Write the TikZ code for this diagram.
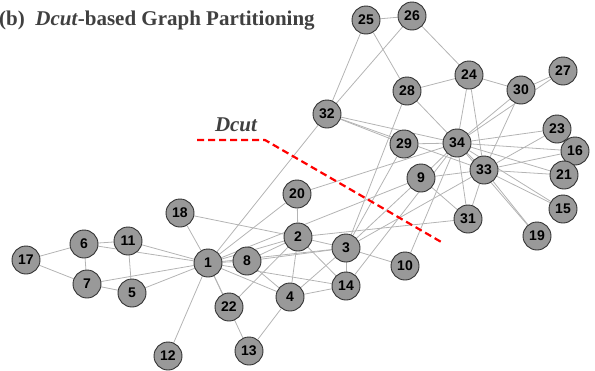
\documentclass[tikz,border=0pt]{standalone}
\usepackage{fontspec}
\setmainfont{Liberation Serif}
\setsansfont{Liberation Sans}
\pgfdeclarelayer{bg}
\pgfsetlayers{bg,main}
\definecolor{nodefill}{RGB}{153,153,153}
\definecolor{nodeline}{RGB}{50,50,50}
\definecolor{edgecol}{RGB}{180,180,180}
\definecolor{titlecol}{RGB}{64,64,64}
\definecolor{cutred}{RGB}{255,0,0}
\begin{document}
\begin{tikzpicture}[x=1pt,y=-1pt,
  v/.style={circle,draw=nodeline,line width=0.9pt,fill=nodefill,minimum size=28pt,inner sep=0pt,
    font=\sffamily\bfseries\fontsize{14}{15}\selectfont},
  e/.style={draw=edgecol,line width=0.8pt},
  cutline/.style={draw=cutred,line width=2.2pt,dash pattern=on 7pt off 4pt}]
\useasboundingbox (0,0) rectangle (595,370);
\node[anchor=base west,text=titlecol,font=\bfseries\fontsize{21}{23}\selectfont,inner sep=0pt] (title) at (-1,25) {(b)\ \ \textit{Dcut}-based Graph Partitioning};
\node[text=titlecol,font=\bfseries\itshape\fontsize{21}{23}\selectfont,inner sep=0pt] (dlabel) at (236,125) {Dcut};
\coordinate (c1) at (197,140);
\coordinate (c2) at (265,140);
\coordinate (c3) at (443,243);
\draw[cutline] (c1) -- (c2) -- (c3);
\foreach \n/\x/\y in {1/208/263,2/298/237,3/346/248,4/290/297,5/132/293,6/84/244,7/87/284,8/247/261,
  9/421/178,10/405/266,11/128/241,12/168/356,13/249/351,14/346/286,15/563/209,16/575/151,17/26/260,
  18/180/213,19/537/236,20/297/194,21/564/175,22/229/307,23/557/129,24/469/75,25/366/20,26/412/16,
  27/563/71,28/407/91,29/404/144,30/521/90,31/468/219,32/327/114,33/484/170,34/457/143}
  {\node[v] (n\n) at (\x,\y) {\n};}
\begin{pgfonlayer}{bg}
\foreach \a/\b in {1/2,1/3,1/4,1/5,1/6,1/7,1/8,1/9,1/11,1/12,1/13,1/14,1/18,1/20,1/22,1/32,
  2/3,2/4,2/8,2/14,2/18,2/20,2/22,2/31,
  3/4,3/8,3/9,3/10,3/14,3/28,3/29,3/33,
  4/8,4/13,4/14,5/7,5/11,6/7,6/11,6/17,7/17,
  9/31,9/33,9/34,10/34,14/34,15/33,15/34,16/33,16/34,19/33,19/34,20/34,21/33,21/34,23/33,23/34,
  24/26,24/28,24/30,24/33,24/34,25/26,25/28,25/32,26/32,27/30,27/34,28/34,29/32,29/34,
  30/33,30/34,31/33,31/34,32/33,32/34,33/34}
  {\draw[e] (n\a) -- (n\b);}
\end{pgfonlayer}
\end{tikzpicture}
\end{document}
